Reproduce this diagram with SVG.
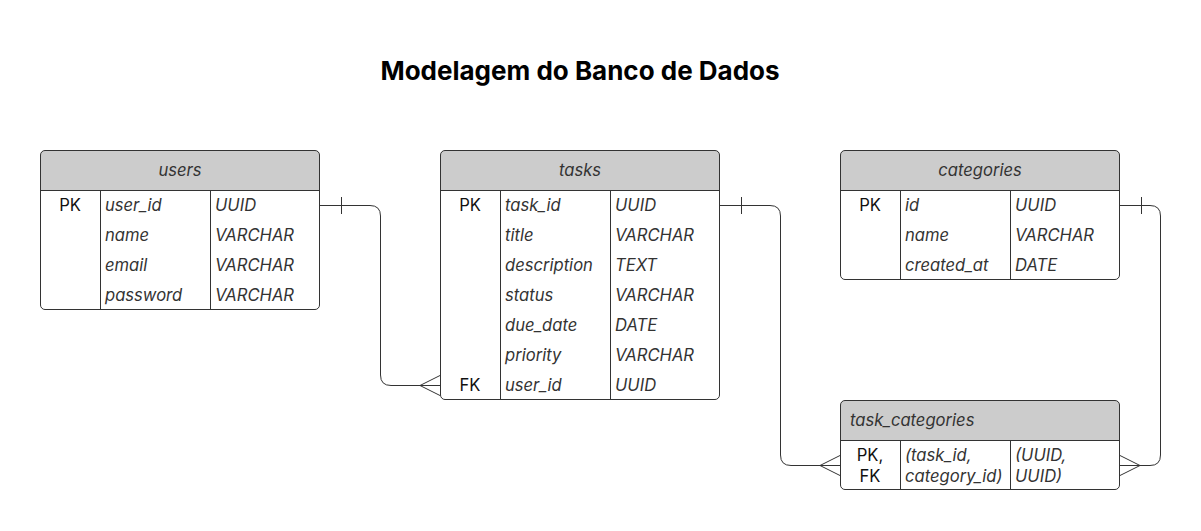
<svg xmlns="http://www.w3.org/2000/svg" width="1201" height="531" viewBox="0 0 1201 531">
<style>
text{font-family:Inter,"Liberation Sans",sans-serif;font-size:16.6px;fill:#333}
.title{font-size:26px;font-weight:bold;fill:#000}
.it{font-style:italic}
.k{fill:#111}
.box{fill:none;stroke:#333;stroke-width:1}
.hd{fill:#ccc}
.ln{stroke:#333;stroke-width:1;fill:none}
.c{text-anchor:middle}
</style>
<rect width="1201" height="531" fill="#fff"/>
<text class="title c" x="580" y="80">Modelagem do Banco de Dados</text>

<g id="users">
<path class="hd" d="M45,150.5 H315 Q319.5,150.5 319.5,155 V190 H40.5 V155 Q40.5,150.5 45,150.5Z"/>
<rect class="box" x="40.5" y="150.5" width="279" height="159" rx="4.5"/>
<path class="ln" d="M40.5,190.5 H319.5 M100.5,190.5 V309.5 M210.5,190.5 V309.5"/>
<text class="it c" x="180" y="176">users</text>
<text class="k c" x="70" y="211">PK</text>
<text class="it" x="105" y="211">user_id</text><text class="it" x="215" y="211">UUID</text>
<text class="it" x="105" y="241">name</text><text class="it" x="215" y="241">VARCHAR</text>
<text class="it" x="105" y="271">email</text><text class="it" x="215" y="271">VARCHAR</text>
<text class="it" x="105" y="301">password</text><text class="it" x="215" y="301">VARCHAR</text>
</g>

<g id="tasks">
<path class="hd" d="M445,150.5 H715 Q719.5,150.5 719.5,155 V190 H440.5 V155 Q440.5,150.5 445,150.5Z"/>
<rect class="box" x="440.5" y="150.5" width="279" height="249" rx="4.5"/>
<path class="ln" d="M440.5,190.5 H719.5 M500.5,190.5 V399.5 M610.5,190.5 V399.5"/>
<text class="it c" x="580" y="176">tasks</text>
<text class="k c" x="470" y="211">PK</text>
<text class="it" x="505" y="211">task_id</text><text class="it" x="615" y="211">UUID</text>
<text class="it" x="505" y="241">title</text><text class="it" x="615" y="241">VARCHAR</text>
<text class="it" x="505" y="271">description</text><text class="it" x="615" y="271">TEXT</text>
<text class="it" x="505" y="301">status</text><text class="it" x="615" y="301">VARCHAR</text>
<text class="it" x="505" y="331">due_date</text><text class="it" x="615" y="331">DATE</text>
<text class="it" x="505" y="361">priority</text><text class="it" x="615" y="361">VARCHAR</text>
<text class="k c" x="470" y="391">FK</text>
<text class="it" x="505" y="391">user_id</text><text class="it" x="615" y="391">UUID</text>
</g>

<g id="categories">
<path class="hd" d="M845,150.5 H1115 Q1119.5,150.5 1119.5,155 V190 H840.5 V155 Q840.5,150.5 845,150.5Z"/>
<rect class="box" x="840.5" y="150.5" width="279" height="129" rx="4.5"/>
<path class="ln" d="M840.5,190.5 H1119.5 M900.5,190.5 V279.5 M1010.5,190.5 V279.5"/>
<text class="it c" x="980" y="176">categories</text>
<text class="k c" x="870" y="211">PK</text>
<text class="it" x="905" y="211">id</text><text class="it" x="1015" y="211">UUID</text>
<text class="it" x="905" y="241">name</text><text class="it" x="1015" y="241">VARCHAR</text>
<text class="it" x="905" y="271">created_at</text><text class="it" x="1015" y="271">DATE</text>
</g>

<g id="task_categories">
<path class="hd" d="M845,400.5 H1115 Q1119.5,400.5 1119.5,405 V440 H840.5 V405 Q840.5,400.5 845,400.5Z"/>
<rect class="box" x="840.5" y="400.5" width="279" height="89" rx="4.5"/>
<path class="ln" d="M840.5,440.5 H1119.5 M900.5,440.5 V489.5 M1010.5,440.5 V489.5"/>
<text class="it" x="850" y="426">task_categories</text>
<text class="k c" x="870" y="461">PK,</text>
<text class="k c" x="870" y="482">FK</text>
<text class="it" x="905" y="461">(task_id,</text>
<text class="it" x="905" y="482">category_id)</text>
<text class="it" x="1015" y="461">(UUID,</text>
<text class="it" x="1015" y="482">UUID)</text>
</g>

<g id="connectors" class="ln">
<path d="M320,205.5 H370 Q380.5,205.5 380.5,216 V375 Q380.5,385.5 391,385.5 H440"/>
<path d="M341.5,197 V214"/>
<path d="M420,385.5 L440,375.5 M420,385.5 L440,395.5"/>
<path d="M720,205.5 H770 Q780.5,205.5 780.5,216 V455 Q780.5,465.5 791,465.5 H840"/>
<path d="M741.5,197 V214"/>
<path d="M820,465.5 L840,455.5 M820,465.5 L840,475.5"/>
<path d="M1120,205.5 H1150 Q1160.5,205.5 1160.5,216 V455 Q1160.5,465.5 1150,465.5 H1120"/>
<path d="M1141.5,197 V214"/>
<path d="M1140,465.5 L1120,455.5 M1140,465.5 L1120,475.5"/>
</g>
</svg>
